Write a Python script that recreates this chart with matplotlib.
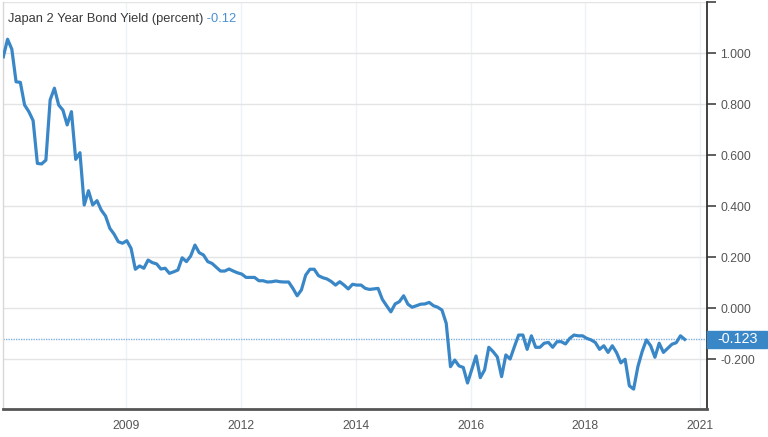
import numpy as np
import matplotlib
matplotlib.use('Agg')
import matplotlib.pyplot as plt
import matplotlib.transforms as mtransforms
from matplotlib.patches import Rectangle

# monthly Japan 2 year bond yield, mid 2007 .. late 2020
yields = [
    0.985, 1.054, 1.015, 0.887, 0.885, 0.796, 0.770, 0.735, 0.567, 0.565,
    0.580, 0.816, 0.862, 0.796, 0.776, 0.718, 0.770, 0.583, 0.609, 0.404,
    0.460, 0.404, 0.421, 0.384, 0.361, 0.313, 0.290, 0.260, 0.254, 0.264,
    0.234, 0.152, 0.165, 0.156, 0.188, 0.178, 0.173, 0.153, 0.156, 0.136,
    0.142, 0.149, 0.197, 0.182, 0.204, 0.247, 0.217, 0.208, 0.182, 0.175,
    0.160, 0.145, 0.145, 0.153, 0.145, 0.138, 0.133, 0.120, 0.120, 0.120,
    0.107, 0.107, 0.102, 0.103, 0.106, 0.103, 0.102, 0.102, 0.077, 0.048,
    0.071, 0.129, 0.152, 0.152, 0.127, 0.119, 0.114, 0.104, 0.090, 0.103,
    0.090, 0.075, 0.093, 0.090, 0.090, 0.077, 0.073, 0.075, 0.077, 0.034,
    0.009, -0.015, 0.016, 0.025, 0.048, 0.015, 0.003, 0.009, 0.015, 0.016,
    0.022, 0.009, 0.003, -0.008, -0.060, -0.230, -0.204, -0.227, -0.233, -0.294,
    -0.241, -0.188, -0.273, -0.243, -0.154, -0.171, -0.192, -0.269, -0.184, -0.200,
    -0.152, -0.106, -0.106, -0.162, -0.109, -0.154, -0.154, -0.138, -0.135, -0.154,
    -0.132, -0.132, -0.141, -0.119, -0.106, -0.109, -0.109, -0.119, -0.125, -0.135,
    -0.162, -0.148, -0.174, -0.148, -0.175, -0.215, -0.201, -0.305, -0.318, -0.230,
    -0.171, -0.125, -0.148, -0.193, -0.138, -0.174, -0.158, -0.142, -0.136, -0.109,
    -0.123,
]
x_labels = ['2009', '2012', '2014', '2016', '2018', '2021']
y_ticks = [-0.2, 0.0, 0.2, 0.4, 0.6, 0.8, 1.0, 1.2]

title = 'Japan 2 Year Bond Yield (percent)'
last = yields[-1]

blue = '#3a87c8'
months = np.arange(len(yields))

fig = plt.figure(figsize=(7.68, 4.37), dpi=100)
plt.rcParams['font.family'] = ['Liberation Sans', 'DejaVu Sans']
ax = fig.add_axes([3 / 768, 28.5 / 437, 704.3 / 768, 406.5 / 437])

ax.plot(months, yields, color=blue, lw=2.3, solid_joinstyle='round', zorder=3)
ax.axhline(last, color='#7fb2e0', ls=(0, (1, 0.8)), lw=1, zorder=2)

ax.set_xlim(-0.07, 165.3)
ax.set_ylim(-0.394, 1.2)

# ticks on the time axis are evenly spaced (about 27 months apart)
x_pos = 28.8 + 26.97 * np.arange(len(x_labels))
ax.set_xticks(x_pos)
ax.set_xticklabels(x_labels)
ax.set_yticks(y_ticks)
ax.set_yticklabels(['%.3f' % v if v < 1.1 else '' for v in y_ticks])

ax.yaxis.tick_right()
ax.tick_params(axis='y', direction='out', length=6.5, width=1.1, color='#333333',
               labelcolor='#555555', labelsize=8.7, pad=3)
ax.tick_params(axis='x', length=0, labelcolor='#555555', labelsize=8.7, pad=8)

ax.grid(axis='y', color='#e4e4e4', lw=1)
ax.grid(axis='x', color='#edf2f6', lw=1)
ax.set_axisbelow(True)

ax.spines['top'].set_visible(False)
ax.spines['left'].set_color('#d8d8d8')
ax.spines['left'].set_linewidth(1)
ax.spines['right'].set_color('#333333')
ax.spines['right'].set_linewidth(1.3)
ax.spines['bottom'].set_color('#555555')
ax.spines['bottom'].set_linewidth(2)

# current value tag on the right axis
trans = mtransforms.blended_transform_factory(ax.transAxes, ax.transData)
ax.add_patch(Rectangle((1.0, last - 0.034), 60 / 704.3, 0.068, transform=trans,
                       color='#3a87c8', clip_on=False, zorder=4))
ax.text(1.0 + 30 / 704.3, last, '%.3f' % last, transform=trans, color='white',
        fontsize=10.3, ha='center', va='center', zorder=5)

t = fig.text(8 / 768, 1 - 19 / 437, title, color='#3a3a3a', fontsize=9.3,
             va='center', ha='left')
ax.annotate(' %.2f' % last, xy=(1, 0.5), xycoords=t, va='center', ha='left',
            color='#4a90d0', fontsize=9.3)

fig.savefig('out.png', dpi=100)
